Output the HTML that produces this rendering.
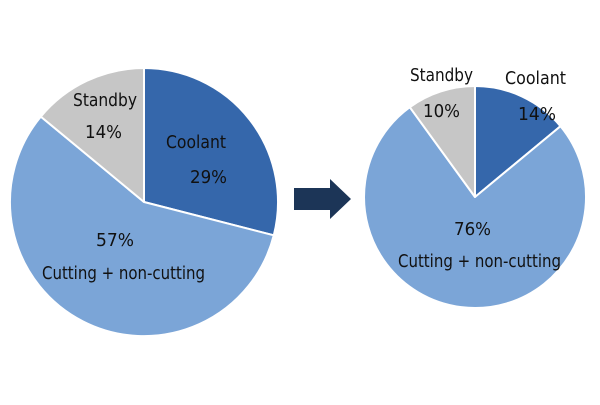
<!DOCTYPE html>
<html><head><style>
body{margin:0;background:#fff;}
svg text{font-family:"DejaVu Sans Condensed","Liberation Sans",sans-serif;font-stretch:condensed;font-size:18px;fill:#111;}
</style></head><body>
<svg width="600" height="400" viewBox="0 0 600 400">
<g stroke="#fff" stroke-width="2" stroke-linejoin="round">
<path d="M144,202 L144,68 A134,134 0 0,1 273.8,235.3 Z" fill="#3567ab"/>
<path d="M144,202 L273.8,235.3 A134,134 0 1,1 40.8,116.6 Z" fill="#7ba5d7"/>
<path d="M144,202 L40.8,116.6 A134,134 0 0,1 144,68 Z" fill="#c6c6c6"/>
<path d="M475,197 L475,86 A111,111 0 0,1 560.5,126.2 Z" fill="#3567ab"/>
<path d="M475,197 L560.5,126.2 A111,111 0 1,1 409.8,107.2 Z" fill="#7ba5d7"/>
<path d="M475,197 L409.8,107.2 A111,111 0 0,1 475,86 Z" fill="#c6c6c6"/>
</g>
<path d="M294,188 H330 V179 L351,199 L330,219 V210 H294 Z" fill="#1c3557"/>
<text x="73" y="106" textLength="64" lengthAdjust="spacingAndGlyphs">Standby</text>
<text x="85" y="138" textLength="37" lengthAdjust="spacingAndGlyphs">14%</text>
<text x="166" y="148" textLength="60" lengthAdjust="spacingAndGlyphs">Coolant</text>
<text x="190" y="183" textLength="37" lengthAdjust="spacingAndGlyphs">29%</text>
<text x="96" y="246" textLength="38" lengthAdjust="spacingAndGlyphs">57%</text>
<text x="42" y="279" textLength="163" lengthAdjust="spacingAndGlyphs">Cutting + non-cutting</text>
<text x="410" y="81" textLength="63" lengthAdjust="spacingAndGlyphs">Standby</text>
<text x="423" y="117" textLength="37" lengthAdjust="spacingAndGlyphs">10%</text>
<text x="505" y="84" textLength="61" lengthAdjust="spacingAndGlyphs">Coolant</text>
<text x="518" y="120" textLength="38" lengthAdjust="spacingAndGlyphs">14%</text>
<text x="454" y="235" textLength="37" lengthAdjust="spacingAndGlyphs">76%</text>
<text x="398" y="267" textLength="163" lengthAdjust="spacingAndGlyphs">Cutting + non-cutting</text>
</svg>
</body></html>
